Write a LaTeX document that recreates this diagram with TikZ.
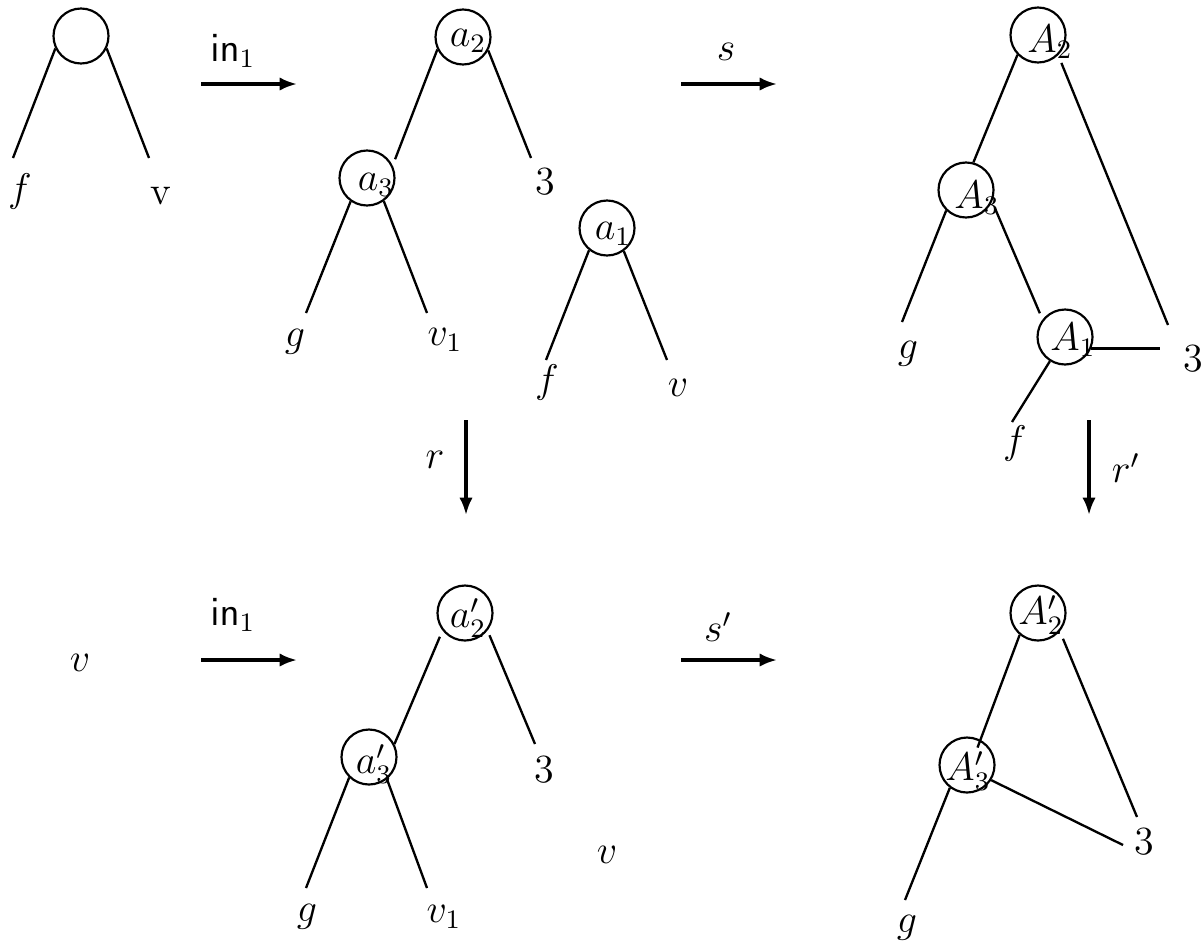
\documentclass[tikz,border=0pt]{standalone}
\usetikzlibrary{arrows.meta}
\begin{document}
\begin{tikzpicture}[x=0.3pt, y=-0.3pt,
    every node/.style={font=\large},
    vtx/.style={circle, draw, line width=0.65pt, minimum size=16.5pt, inner sep=0pt},
    branch/.style={line width=0.7pt},
    arr/.style={line width=1pt, -{Latex[length=5.2pt,width=4pt]}}]
    \useasboundingbox (0,0) rectangle (1204,949);

    % pattern tree
    \node[vtx] (c0) at (81,36) {};
    \coordinate (c0l) at (13,158);
    \coordinate (c0r) at (149,158);
    \draw[branch] (c0.206) -- (c0l);
    \draw[branch] (c0.334) -- (c0r);
    \node (f0) at (20,191) {$f$};
    \node (v0) at (161,196) {v};

    % arrows of the top row
    \coordinate (in1a) at (201,84);
    \coordinate (in1b) at (297,84);
    \draw[arr] (in1a) -- (in1b);
    \node (in1) at (233,51) {$\mathsf{in}_1$};
    \coordinate (sa) at (681,84);
    \coordinate (sb) at (777,84);
    \draw[arr] (sa) -- (sb);
    \node (s) at (726,52) {$s$};

    % middle trees
    \node[vtx, label={[shift={(5,4)}]center:$a_2$}] (a2) at (463,37) {};
    \node[vtx, label={[shift={(9,7)}]center:$a_3$}] (a3) at (367,178) {};
    \node[vtx, label={[shift={(6,6)}]center:$a_1$}] (a1) at (607,228) {};
    \coordinate (a2r) at (531,158);
    \coordinate (a3l) at (306,313);
    \coordinate (a3r) at (427,313);
    \coordinate (a1l) at (546,360);
    \coordinate (a1r) at (667,360);
    \draw[branch, shorten >=2pt] (a2.206) -- (a3.26);
    \draw[branch] (a2.332) -- (a2r);
    \draw[branch] (a3.235) -- (a3l);
    \draw[branch] (a3.306) -- (a3r);
    \draw[branch] (a1.231) -- (a1l);
    \draw[branch] (a1.306) -- (a1r);
    \node (t2) at (545,182) {$3$};
    \node (g2) at (295,342) {$g$};
    \node (v2) at (445,340) {$v_1$};
    \node (f2) at (547,382) {$f$};
    \node (w2) at (678,388) {$v$};

    % glued tree
    \node[vtx, label={[shift={(12,7)}]center:$A_2$}] (A2) at (1038,35) {};
    \node[vtx, label={[shift={(11,8)}]center:$A_3$}] (A3) at (966,190) {};
    \node[vtx, label={[shift={(8,3)}]center:$A_1$}] (A1) at (1065,337) {};
    \coordinate (A2r) at (1168,325);
    \coordinate (A3l) at (902,322);
    \coordinate (A1r) at (1160,348);
    \coordinate (A1l) at (1012,422);
    \draw[branch] (A2.224) -- (A3.75);
    \draw[branch, shorten <=2.5pt] (A2.315) -- (A2r);
    \draw[branch] (A3.226) -- (A3l);
    \draw[branch, shorten <=2.5pt, shorten >=2pt] (A3.336) -- (A1.142);
    \draw[branch] (A1.336) -- (A1.336 -| A1r);
    \draw[branch] (A1.238) -- (A1l);
    \node (t3) at (1193,359) {$3$};
    \node (g3) at (908,354) {$g$};
    \node (f3) at (1015,443) {$f$};

    % vertical arrows
    \coordinate (ra) at (466,420);
    \coordinate (rb) at (466,515);
    \draw[arr] (ra) -- (rb);
    \node (r) at (435,460) {$r$};
    \coordinate (rpa) at (1089,420);
    \coordinate (rpb) at (1089,515);
    \draw[arr] (rpa) -- (rpb);
    \node (rp) at (1126,468) {$r'$};

    % bottom row
    \node (v4) at (80,663) {$v$};
    \coordinate (in2a) at (201,660);
    \coordinate (in2b) at (297,660);
    \draw[arr] (in2a) -- (in2b);
    \node (in2) at (233,615) {$\mathsf{in}_1$};
    \coordinate (spa) at (681,660);
    \coordinate (spb) at (777,660);
    \draw[arr] (spa) -- (spb);
    \node (sp) at (718,627) {$s'$};

    \node[vtx, label={[shift={(3,5)}]center:$a'_2$}] (ap2) at (465,613) {};
    \node[vtx, label={[shift={(5,7)}]center:$a'_3$}] (ap3) at (369,757) {};
    \coordinate (ap2r) at (535,744);
    \coordinate (ap3l) at (306,888);
    \coordinate (ap3r) at (427,888);
    \draw[branch, shorten <=2pt] (ap2.218) -- (ap3.27);
    \draw[branch, shorten <=1.5pt] (ap2.322) -- (ap2r);
    \draw[branch] (ap3.226) -- (ap3l);
    \draw[branch] (ap3.309) -- (ap3r);
    \node (t5) at (544,770) {$3$};
    \node (g5) at (307,917) {$g$};
    \node (v5) at (444,917) {$v_1$};
    \node (w5) at (607,855) {$v$};

    \node[vtx, label={[shift={(3,2)}]center:$A'_2$}] (Ap2) at (1038,613) {};
    \node[vtx, label={[shift={(1,6)}]center:$A'_3$}] (Ap3) at (967,765) {};
    \coordinate (Ap2r) at (1137,817);
    \coordinate (Ap3r) at (1123,845);
    \coordinate (Ap3l) at (905,900);
    \draw[branch, shorten >=-2.5pt] (Ap2.230) -- (Ap3.62);
    \draw[branch, shorten <=2.4pt] (Ap2.320) -- (Ap2r);
    \draw[branch] (Ap3.328) -- (Ap3r);
    \draw[branch] (Ap3.233) -- (Ap3l);
    \node (t6) at (1144,842) {$3$};
    \node (g6) at (907,928) {$g$};
\end{tikzpicture}
\end{document}
